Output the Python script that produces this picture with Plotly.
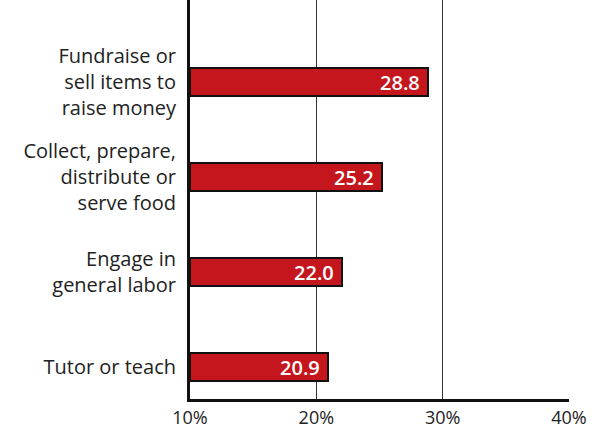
import plotly.graph_objects as go

categories = ["Fundraise or<br>sell items to<br>raise money",
              "Collect, prepare,<br>distribute or<br>serve food",
              "Engage in<br>general labor",
              "Tutor or teach"]
values = [28.8, 25.2, 22.0, 20.9]
value_labels = ["28.8", "25.2", "22.0", "20.9"]
x_ticks = [10, 20, 30, 40]
x_tick_labels = ["10%", "20%", "30%", "40%"]
axis_base = 10

fig = go.Figure(go.Bar(
    x=[v - axis_base for v in values], y=categories, orientation="h", base=axis_base,
    width=0.3,
    marker=dict(color="#c4161c", line=dict(color="#111111", width=2)),
    text=value_labels, texttemplate="%{text}\u00a0", textposition="inside",
    insidetextanchor="end", constraintext="none",
    textfont=dict(color="white", size=20, family="Open Sans", weight=600),
))

fig.update_layout(
    width=597, height=435,
    margin=dict(l=190, r=28, t=0, b=36),
    plot_bgcolor="white", paper_bgcolor="white",
    font=dict(family="Open Sans", size=20, color="#222222"),
    showlegend=False,
    bargap=0,
)
fig.update_xaxes(
    range=[10, 40], tickvals=x_ticks, ticktext=x_tick_labels,
    showgrid=True, gridcolor="#333333", gridwidth=1,
    showline=True, linecolor="#111111", linewidth=3,
    zeroline=False, ticks="", tickfont=dict(size=18), automargin=False,
)
fig.update_yaxes(
    categoryorder="array", categoryarray=categories,
    range=[3.337, -0.863],
    showline=True, linecolor="#111111", linewidth=3,
    showgrid=False, ticks="", ticklabelstandoff=7, automargin=False,
)
fig.write_html("out.html", config={"displayModeBar": False},
               post_script="document.body.style.margin='0';")
